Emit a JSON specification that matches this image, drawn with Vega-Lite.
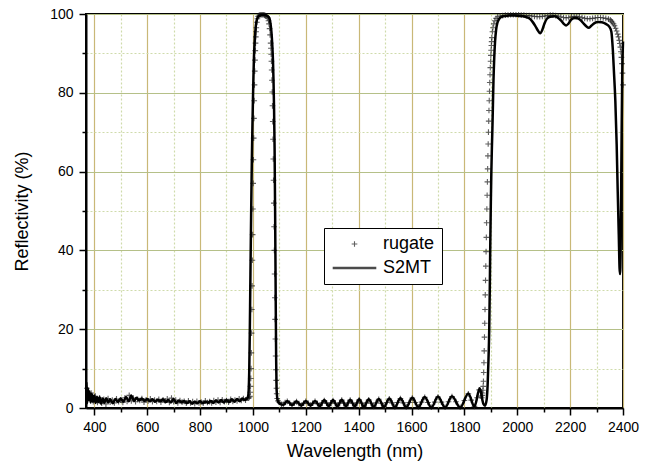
{
"$schema": "https://vega.github.io/schema/vega-lite/v6.json",
"width": 537, "height": 394,
"autosize": {"type": "none"},
"padding": {"left": 86, "top": 14, "right": 29, "bottom": 63},
"background": "white",
"config": {
 "view": {"stroke": "#000", "strokeWidth": 2},
 "font": "Liberation Sans",
 "legend": {"orient": "none", "legendX": 238, "legendY": 214, "padding": 7, "strokeColor": "#000", "fillColor": "#fff", "labelFontSize": 18, "labelFont": "Liberation Sans", "labelColor": "#000", "labelOffset": 5, "clipHeight": 18, "rowPadding": 6, "symbolSize": 1900, "cornerRadius": 0}
},
"datasets": {"d": [
{"w":370,"r":6.5,"s":"S2MT"},{"w":373,"r":1.2,"s":"S2MT"},{"w":376,"r":5.0,"s":"S2MT"},{"w":379,"r":2.0,"s":"S2MT"},{"w":382,"r":4.2,"s":"S2MT"},{"w":386,"r":1.4,"s":"S2MT"},{"w":390,"r":3.6,"s":"S2MT"},{"w":395,"r":1.6,"s":"S2MT"},{"w":400,"r":3.2,"s":"S2MT"},{"w":405,"r":1.3,"s":"S2MT"},{"w":410,"r":2.8,"s":"S2MT"},{"w":415,"r":1.5,"s":"S2MT"},{"w":420,"r":2.7,"s":"S2MT"},{"w":426,"r":1.1,"s":"S2MT"},{"w":432,"r":2.4,"s":"S2MT"},{"w":438,"r":1.3,"s":"S2MT"},{"w":445,"r":2.5,"s":"S2MT"},{"w":452,"r":1.4,"s":"S2MT"},{"w":460,"r":2.2,"s":"S2MT"},{"w":470,"r":1.2,"s":"S2MT"},{"w":480,"r":2.3,"s":"S2MT"},{"w":490,"r":1.5,"s":"S2MT"},{"w":500,"r":2.4,"s":"S2MT"},{"w":510,"r":1.6,"s":"S2MT"},{"w":520,"r":2.8,"s":"S2MT"},{"w":530,"r":1.7,"s":"S2MT"},{"w":540,"r":3.2,"s":"S2MT"},{"w":550,"r":1.8,"s":"S2MT"},{"w":560,"r":2.6,"s":"S2MT"},{"w":570,"r":1.9,"s":"S2MT"},{"w":580,"r":2.4,"s":"S2MT"},{"w":590,"r":1.8,"s":"S2MT"},{"w":600,"r":2.3,"s":"S2MT"},{"w":610,"r":1.7,"s":"S2MT"},{"w":620,"r":2.2,"s":"S2MT"},{"w":630,"r":1.6,"s":"S2MT"},{"w":640,"r":2.1,"s":"S2MT"},{"w":650,"r":1.7,"s":"S2MT"},{"w":660,"r":2.2,"s":"S2MT"},{"w":670,"r":1.5,"s":"S2MT"},{"w":680,"r":2.0,"s":"S2MT"},{"w":690,"r":1.4,"s":"S2MT"},{"w":700,"r":2.3,"s":"S2MT"},{"w":710,"r":1.3,"s":"S2MT"},{"w":720,"r":1.9,"s":"S2MT"},{"w":730,"r":1.4,"s":"S2MT"},{"w":740,"r":1.8,"s":"S2MT"},{"w":750,"r":1.2,"s":"S2MT"},{"w":760,"r":1.7,"s":"S2MT"},{"w":770,"r":1.1,"s":"S2MT"},{"w":780,"r":1.6,"s":"S2MT"},{"w":790,"r":1.2,"s":"S2MT"},{"w":800,"r":1.7,"s":"S2MT"},{"w":810,"r":1.2,"s":"S2MT"},{"w":820,"r":1.6,"s":"S2MT"},{"w":830,"r":1.3,"s":"S2MT"},{"w":840,"r":1.8,"s":"S2MT"},{"w":850,"r":1.3,"s":"S2MT"},{"w":860,"r":1.9,"s":"S2MT"},{"w":870,"r":1.4,"s":"S2MT"},{"w":880,"r":2.0,"s":"S2MT"},{"w":890,"r":1.4,"s":"S2MT"},{"w":900,"r":2.1,"s":"S2MT"},{"w":910,"r":1.5,"s":"S2MT"},{"w":920,"r":2.2,"s":"S2MT"},{"w":930,"r":1.6,"s":"S2MT"},{"w":940,"r":2.3,"s":"S2MT"},{"w":950,"r":1.7,"s":"S2MT"},{"w":960,"r":2.4,"s":"S2MT"},{"w":970,"r":2.0,"s":"S2MT"},{"w":976,"r":2.3,"s":"S2MT"},
{"w":980,"r":2.6,"s":"S2MT"},{"w":982,"r":3,"s":"S2MT"},{"w":984,"r":4.5,"s":"S2MT"},{"w":986,"r":9,"s":"S2MT"},{"w":988,"r":18,"s":"S2MT"},{"w":990,"r":30,"s":"S2MT"},{"w":992,"r":42,"s":"S2MT"},{"w":994,"r":53,"s":"S2MT"},{"w":996,"r":63,"s":"S2MT"},{"w":998,"r":71,"s":"S2MT"},{"w":1000,"r":78,"s":"S2MT"},{"w":1002,"r":84,"s":"S2MT"},{"w":1004,"r":89,"s":"S2MT"},{"w":1007,"r":93.5,"s":"S2MT"},{"w":1011,"r":97,"s":"S2MT"},{"w":1017,"r":99,"s":"S2MT"},{"w":1025,"r":99.6,"s":"S2MT"},{"w":1040,"r":99.8,"s":"S2MT"},{"w":1055,"r":99.5,"s":"S2MT"},{"w":1062,"r":99,"s":"S2MT"},{"w":1066,"r":97.8,"s":"S2MT"},{"w":1070,"r":95.5,"s":"S2MT"},{"w":1073,"r":92.5,"s":"S2MT"},{"w":1076,"r":88,"s":"S2MT"},{"w":1078,"r":83,"s":"S2MT"},{"w":1080,"r":76,"s":"S2MT"},{"w":1082,"r":66,"s":"S2MT"},{"w":1084,"r":50,"s":"S2MT"},{"w":1086,"r":30,"s":"S2MT"},{"w":1088,"r":12,"s":"S2MT"},{"w":1089.5,"r":5,"s":"S2MT"},{"w":1092,"r":2.5,"s":"S2MT"},{"w":1096,"r":1.5,"s":"S2MT"},
{"w":1100,"r":1.2,"s":"S2MT"},{"w":1115,"r":0.8,"s":"S2MT"},{"w":1130,"r":1.8,"s":"S2MT"},{"w":1148,"r":0.7,"s":"S2MT"},{"w":1165,"r":1.7,"s":"S2MT"},{"w":1183,"r":0.6,"s":"S2MT"},{"w":1200,"r":1.8,"s":"S2MT"},{"w":1218,"r":0.6,"s":"S2MT"},{"w":1235,"r":1.8,"s":"S2MT"},{"w":1253,"r":0.5,"s":"S2MT"},{"w":1270,"r":2.0,"s":"S2MT"},{"w":1287,"r":0.5,"s":"S2MT"},{"w":1303,"r":2.0,"s":"S2MT"},{"w":1320,"r":0.4,"s":"S2MT"},{"w":1336,"r":2.1,"s":"S2MT"},{"w":1352,"r":0.4,"s":"S2MT"},{"w":1368,"r":2.1,"s":"S2MT"},{"w":1385,"r":0.4,"s":"S2MT"},{"w":1402,"r":2.2,"s":"S2MT"},{"w":1420,"r":0.3,"s":"S2MT"},{"w":1438,"r":2.2,"s":"S2MT"},{"w":1457,"r":0.3,"s":"S2MT"},{"w":1476,"r":2.3,"s":"S2MT"},{"w":1496,"r":0.3,"s":"S2MT"},{"w":1516,"r":2.4,"s":"S2MT"},{"w":1537,"r":0.2,"s":"S2MT"},{"w":1558,"r":2.5,"s":"S2MT"},{"w":1580,"r":0.2,"s":"S2MT"},{"w":1603,"r":2.6,"s":"S2MT"},{"w":1626,"r":0.2,"s":"S2MT"},{"w":1650,"r":2.8,"s":"S2MT"},{"w":1675,"r":0.1,"s":"S2MT"},{"w":1700,"r":2.9,"s":"S2MT"},{"w":1727,"r":0.1,"s":"S2MT"},{"w":1753,"r":3.0,"s":"S2MT"},{"w":1784,"r":0.1,"s":"S2MT"},{"w":1815,"r":3.7,"s":"S2MT"},{"w":1838,"r":0.3,"s":"S2MT"},{"w":1858,"r":5.0,"s":"S2MT"},{"w":1872,"r":1.0,"s":"S2MT"},{"w":1878,"r":0.6,"s":"S2MT"},
{"w":1884,"r":2,"s":"S2MT"},{"w":1888,"r":6,"s":"S2MT"},{"w":1891,"r":12,"s":"S2MT"},{"w":1894,"r":20,"s":"S2MT"},{"w":1896,"r":30,"s":"S2MT"},{"w":1898,"r":42,"s":"S2MT"},{"w":1900,"r":52,"s":"S2MT"},{"w":1902,"r":60,"s":"S2MT"},{"w":1904,"r":66,"s":"S2MT"},{"w":1906,"r":71,"s":"S2MT"},{"w":1908,"r":77,"s":"S2MT"},{"w":1910,"r":83,"s":"S2MT"},{"w":1913,"r":89,"s":"S2MT"},{"w":1916,"r":93,"s":"S2MT"},{"w":1920,"r":96,"s":"S2MT"},{"w":1925,"r":97.8,"s":"S2MT"},{"w":1932,"r":98.8,"s":"S2MT"},{"w":1942,"r":99.3,"s":"S2MT"},{"w":1955,"r":99.5,"s":"S2MT"},{"w":1970,"r":99.6,"s":"S2MT"},{"w":1990,"r":99.6,"s":"S2MT"},{"w":2010,"r":99.5,"s":"S2MT"},{"w":2030,"r":99.3,"s":"S2MT"},{"w":2045,"r":98.9,"s":"S2MT"},{"w":2058,"r":98,"s":"S2MT"},{"w":2068,"r":97,"s":"S2MT"},{"w":2078,"r":95.8,"s":"S2MT"},{"w":2087,"r":95.1,"s":"S2MT"},{"w":2095,"r":96,"s":"S2MT"},{"w":2103,"r":97.6,"s":"S2MT"},{"w":2112,"r":98.8,"s":"S2MT"},{"w":2125,"r":99.3,"s":"S2MT"},{"w":2140,"r":99.4,"s":"S2MT"},{"w":2155,"r":99,"s":"S2MT"},{"w":2166,"r":98.3,"s":"S2MT"},{"w":2176,"r":97.5,"s":"S2MT"},{"w":2185,"r":97.1,"s":"S2MT"},{"w":2193,"r":97.5,"s":"S2MT"},{"w":2203,"r":98.5,"s":"S2MT"},{"w":2215,"r":99,"s":"S2MT"},{"w":2228,"r":98.9,"s":"S2MT"},{"w":2240,"r":98.4,"s":"S2MT"},{"w":2252,"r":97.5,"s":"S2MT"},{"w":2262,"r":96.8,"s":"S2MT"},{"w":2270,"r":96.5,"s":"S2MT"},{"w":2280,"r":97,"s":"S2MT"},{"w":2292,"r":97.7,"s":"S2MT"},{"w":2305,"r":98,"s":"S2MT"},{"w":2320,"r":97.9,"s":"S2MT"},{"w":2335,"r":97.5,"s":"S2MT"},{"w":2348,"r":96.8,"s":"S2MT"},{"w":2356,"r":95.5,"s":"S2MT"},{"w":2361,"r":91.5,"s":"S2MT"},{"w":2366,"r":85,"s":"S2MT"},{"w":2371,"r":78,"s":"S2MT"},{"w":2376,"r":67,"s":"S2MT"},{"w":2380,"r":55,"s":"S2MT"},{"w":2384,"r":44,"s":"S2MT"},{"w":2387,"r":35.5,"s":"S2MT"},{"w":2389,"r":34,"s":"S2MT"},{"w":2391,"r":40,"s":"S2MT"},{"w":2393,"r":55,"s":"S2MT"},{"w":2395,"r":71,"s":"S2MT"},{"w":2397,"r":84,"s":"S2MT"},{"w":2400,"r":93,"s":"S2MT"},
{"w":372,"r":5.0,"s":"rugate"},{"w":380,"r":2.5,"s":"rugate"},{"w":388,"r":3.8,"s":"rugate"},{"w":396,"r":1.6,"s":"rugate"},{"w":404,"r":3.0,"s":"rugate"},{"w":412,"r":1.4,"s":"rugate"},{"w":420,"r":2.6,"s":"rugate"},{"w":428,"r":1.2,"s":"rugate"},{"w":436,"r":2.2,"s":"rugate"},{"w":444,"r":1.0,"s":"rugate"},{"w":452,"r":2.4,"s":"rugate"},{"w":460,"r":1.5,"s":"rugate"},{"w":468,"r":2.0,"s":"rugate"},{"w":476,"r":1.3,"s":"rugate"},{"w":484,"r":2.3,"s":"rugate"},{"w":492,"r":1.6,"s":"rugate"},{"w":500,"r":2.1,"s":"rugate"},{"w":508,"r":1.4,"s":"rugate"},{"w":516,"r":2.6,"s":"rugate"},{"w":524,"r":1.7,"s":"rugate"},{"w":532,"r":3.2,"s":"rugate"},{"w":540,"r":1.8,"s":"rugate"},{"w":548,"r":2.5,"s":"rugate"},{"w":556,"r":1.6,"s":"rugate"},{"w":564,"r":2.2,"s":"rugate"},{"w":572,"r":1.9,"s":"rugate"},{"w":580,"r":2.4,"s":"rugate"},{"w":588,"r":1.5,"s":"rugate"},{"w":596,"r":2.1,"s":"rugate"},{"w":604,"r":1.8,"s":"rugate"},{"w":612,"r":2.3,"s":"rugate"},{"w":620,"r":1.6,"s":"rugate"},{"w":628,"r":2.0,"s":"rugate"},{"w":636,"r":1.7,"s":"rugate"},{"w":644,"r":2.2,"s":"rugate"},{"w":652,"r":1.5,"s":"rugate"},{"w":660,"r":2.1,"s":"rugate"},{"w":668,"r":1.8,"s":"rugate"},{"w":676,"r":2.3,"s":"rugate"},{"w":684,"r":1.4,"s":"rugate"},{"w":692,"r":2.5,"s":"rugate"},{"w":700,"r":1.6,"s":"rugate"},{"w":708,"r":2.0,"s":"rugate"},{"w":716,"r":1.3,"s":"rugate"},{"w":724,"r":1.9,"s":"rugate"},{"w":732,"r":1.5,"s":"rugate"},{"w":740,"r":1.7,"s":"rugate"},{"w":748,"r":1.2,"s":"rugate"},{"w":756,"r":1.8,"s":"rugate"},{"w":764,"r":1.3,"s":"rugate"},{"w":772,"r":1.6,"s":"rugate"},{"w":780,"r":1.1,"s":"rugate"},{"w":788,"r":1.7,"s":"rugate"},{"w":796,"r":1.3,"s":"rugate"},{"w":804,"r":1.5,"s":"rugate"},{"w":812,"r":1.2,"s":"rugate"},{"w":820,"r":1.8,"s":"rugate"},{"w":828,"r":1.4,"s":"rugate"},{"w":836,"r":1.6,"s":"rugate"},{"w":844,"r":1.3,"s":"rugate"},{"w":852,"r":1.9,"s":"rugate"},{"w":860,"r":1.5,"s":"rugate"},{"w":868,"r":2.0,"s":"rugate"},{"w":876,"r":1.4,"s":"rugate"},{"w":884,"r":2.1,"s":"rugate"},{"w":892,"r":1.6,"s":"rugate"},{"w":900,"r":1.9,"s":"rugate"},{"w":908,"r":1.5,"s":"rugate"},{"w":916,"r":2.2,"s":"rugate"},{"w":924,"r":1.7,"s":"rugate"},{"w":932,"r":2.0,"s":"rugate"},{"w":940,"r":1.8,"s":"rugate"},{"w":948,"r":2.3,"s":"rugate"},{"w":956,"r":1.9,"s":"rugate"},{"w":964,"r":2.4,"s":"rugate"},{"w":972,"r":2.0,"s":"rugate"},{"w":980,"r":2.6,"s":"rugate"},{"w":984,"r":2.5,"s":"rugate"},{"w":987,"r":2.8,"s":"rugate"},
{"w":989,"r":3,"s":"rugate"},{"w":990,"r":4,"s":"rugate"},{"w":991,"r":5.5,"s":"rugate"},{"w":992,"r":7.5,"s":"rugate"},{"w":993,"r":10,"s":"rugate"},{"w":994,"r":14,"s":"rugate"},{"w":995,"r":19,"s":"rugate"},{"w":996,"r":25,"s":"rugate"},{"w":997,"r":31,"s":"rugate"},{"w":998,"r":37.5,"s":"rugate"},{"w":999,"r":44,"s":"rugate"},{"w":1000,"r":50.5,"s":"rugate"},{"w":1001,"r":57,"s":"rugate"},{"w":1002,"r":63,"s":"rugate"},{"w":1003,"r":68.5,"s":"rugate"},{"w":1004,"r":73.5,"s":"rugate"},{"w":1005,"r":78,"s":"rugate"},{"w":1006,"r":82,"s":"rugate"},{"w":1007,"r":85.5,"s":"rugate"},{"w":1008,"r":88.3,"s":"rugate"},{"w":1009,"r":90.7,"s":"rugate"},{"w":1010,"r":92.6,"s":"rugate"},{"w":1011,"r":94.2,"s":"rugate"},{"w":1012,"r":95.5,"s":"rugate"},{"w":1013,"r":96.5,"s":"rugate"},{"w":1015,"r":97.9,"s":"rugate"},{"w":1017,"r":98.8,"s":"rugate"},{"w":1020,"r":99.4,"s":"rugate"},{"w":1024,"r":99.7,"s":"rugate"},{"w":1028,"r":99.8,"s":"rugate"},{"w":1032,"r":99.8,"s":"rugate"},{"w":1036,"r":99.8,"s":"rugate"},{"w":1040,"r":99.8,"s":"rugate"},{"w":1044,"r":99.7,"s":"rugate"},{"w":1047,"r":99.6,"s":"rugate"},{"w":1050,"r":99.5,"s":"rugate"},{"w":1053,"r":99.3,"s":"rugate"},{"w":1056,"r":99.0,"s":"rugate"},{"w":1059,"r":98.3,"s":"rugate"},{"w":1061,"r":97.5,"s":"rugate"},{"w":1063,"r":96.3,"s":"rugate"},{"w":1065,"r":94.7,"s":"rugate"},{"w":1067,"r":92.6,"s":"rugate"},{"w":1068,"r":91.3,"s":"rugate"},{"w":1069,"r":89.8,"s":"rugate"},{"w":1070,"r":88,"s":"rugate"},{"w":1071,"r":85.8,"s":"rugate"},{"w":1072,"r":83.2,"s":"rugate"},{"w":1073,"r":80.2,"s":"rugate"},{"w":1074,"r":76.7,"s":"rugate"},{"w":1075,"r":72.7,"s":"rugate"},{"w":1076,"r":68.2,"s":"rugate"},{"w":1077,"r":63.2,"s":"rugate"},{"w":1078,"r":57.8,"s":"rugate"},{"w":1079,"r":52,"s":"rugate"},{"w":1080,"r":46,"s":"rugate"},{"w":1081,"r":40,"s":"rugate"},{"w":1082,"r":34,"s":"rugate"},{"w":1083,"r":28,"s":"rugate"},{"w":1084,"r":22.5,"s":"rugate"},{"w":1085,"r":17.5,"s":"rugate"},{"w":1086,"r":13.2,"s":"rugate"},{"w":1087,"r":9.7,"s":"rugate"},{"w":1088,"r":7,"s":"rugate"},{"w":1089,"r":5,"s":"rugate"},{"w":1090,"r":3.6,"s":"rugate"},{"w":1092,"r":2.4,"s":"rugate"},{"w":1095,"r":1.8,"s":"rugate"},
{"w":1100,"r":1.4,"s":"rugate"},{"w":1108,"r":0.9,"s":"rugate"},{"w":1115,"r":0.9,"s":"rugate"},{"w":1122,"r":1.4,"s":"rugate"},{"w":1130,"r":1.7,"s":"rugate"},{"w":1139,"r":1.2,"s":"rugate"},{"w":1148,"r":0.8,"s":"rugate"},{"w":1156,"r":1.2,"s":"rugate"},{"w":1165,"r":1.6,"s":"rugate"},{"w":1174,"r":1.1,"s":"rugate"},{"w":1183,"r":0.7,"s":"rugate"},{"w":1192,"r":1.2,"s":"rugate"},{"w":1200,"r":1.7,"s":"rugate"},{"w":1209,"r":1.2,"s":"rugate"},{"w":1218,"r":0.7,"s":"rugate"},{"w":1226,"r":1.2,"s":"rugate"},{"w":1235,"r":1.7,"s":"rugate"},{"w":1244,"r":1.1,"s":"rugate"},{"w":1253,"r":0.6,"s":"rugate"},{"w":1262,"r":1.3,"s":"rugate"},{"w":1270,"r":1.9,"s":"rugate"},{"w":1279,"r":1.2,"s":"rugate"},{"w":1287,"r":0.6,"s":"rugate"},{"w":1295,"r":1.3,"s":"rugate"},{"w":1303,"r":1.9,"s":"rugate"},{"w":1312,"r":1.2,"s":"rugate"},{"w":1320,"r":0.5,"s":"rugate"},{"w":1328,"r":1.3,"s":"rugate"},{"w":1336,"r":2.0,"s":"rugate"},{"w":1344,"r":1.2,"s":"rugate"},{"w":1352,"r":0.5,"s":"rugate"},{"w":1360,"r":1.3,"s":"rugate"},{"w":1368,"r":2.0,"s":"rugate"},{"w":1377,"r":1.2,"s":"rugate"},{"w":1385,"r":0.5,"s":"rugate"},{"w":1394,"r":1.3,"s":"rugate"},{"w":1402,"r":2.1,"s":"rugate"},{"w":1411,"r":1.2,"s":"rugate"},{"w":1420,"r":0.4,"s":"rugate"},{"w":1429,"r":1.3,"s":"rugate"},{"w":1438,"r":2.1,"s":"rugate"},{"w":1447,"r":1.2,"s":"rugate"},{"w":1457,"r":0.4,"s":"rugate"},{"w":1466,"r":1.3,"s":"rugate"},{"w":1476,"r":2.2,"s":"rugate"},{"w":1486,"r":1.2,"s":"rugate"},{"w":1496,"r":0.4,"s":"rugate"},{"w":1506,"r":1.4,"s":"rugate"},{"w":1516,"r":2.3,"s":"rugate"},{"w":1526,"r":1.3,"s":"rugate"},{"w":1537,"r":0.3,"s":"rugate"},{"w":1547,"r":1.4,"s":"rugate"},{"w":1558,"r":2.4,"s":"rugate"},{"w":1569,"r":1.3,"s":"rugate"},{"w":1580,"r":0.3,"s":"rugate"},{"w":1591,"r":1.4,"s":"rugate"},{"w":1603,"r":2.5,"s":"rugate"},{"w":1614,"r":1.4,"s":"rugate"},{"w":1626,"r":0.3,"s":"rugate"},{"w":1638,"r":1.5,"s":"rugate"},{"w":1650,"r":2.7,"s":"rugate"},{"w":1662,"r":1.4,"s":"rugate"},{"w":1675,"r":0.2,"s":"rugate"},{"w":1688,"r":1.5,"s":"rugate"},{"w":1700,"r":2.8,"s":"rugate"},{"w":1713,"r":1.5,"s":"rugate"},{"w":1727,"r":0.2,"s":"rugate"},{"w":1740,"r":1.6,"s":"rugate"},{"w":1753,"r":2.9,"s":"rugate"},{"w":1768,"r":1.6,"s":"rugate"},{"w":1784,"r":0.2,"s":"rugate"},{"w":1800,"r":1.9,"s":"rugate"},{"w":1815,"r":3.6,"s":"rugate"},{"w":1826,"r":2.0,"s":"rugate"},{"w":1838,"r":0.4,"s":"rugate"},{"w":1848,"r":2.6,"s":"rugate"},{"w":1856,"r":4.6,"s":"rugate"},{"w":1862,"r":3.0,"s":"rugate"},{"w":1866,"r":2.6,"s":"rugate"},{"w":1868,"r":3.2,"s":"rugate"},{"w":1869,"r":3.8,"s":"rugate"},
{"w":1870,"r":4.5,"s":"rugate"},{"w":1871,"r":5.5,"s":"rugate"},{"w":1872,"r":6.8,"s":"rugate"},{"w":1873,"r":9,"s":"rugate"},{"w":1874,"r":11.5,"s":"rugate"},{"w":1875,"r":14.5,"s":"rugate"},{"w":1876,"r":18,"s":"rugate"},{"w":1877,"r":21.5,"s":"rugate"},{"w":1878,"r":25,"s":"rugate"},{"w":1879,"r":28.7,"s":"rugate"},{"w":1880,"r":32.4,"s":"rugate"},{"w":1881,"r":36,"s":"rugate"},{"w":1882,"r":39.7,"s":"rugate"},{"w":1883,"r":43.3,"s":"rugate"},{"w":1884,"r":47,"s":"rugate"},{"w":1885,"r":50.5,"s":"rugate"},{"w":1886,"r":54,"s":"rugate"},{"w":1887,"r":57.4,"s":"rugate"},{"w":1888,"r":60.7,"s":"rugate"},{"w":1889,"r":64,"s":"rugate"},{"w":1890,"r":67,"s":"rugate"},{"w":1891,"r":70,"s":"rugate"},{"w":1892,"r":72.8,"s":"rugate"},{"w":1893,"r":75.5,"s":"rugate"},{"w":1894,"r":78,"s":"rugate"},{"w":1895,"r":80.4,"s":"rugate"},{"w":1896,"r":82.6,"s":"rugate"},{"w":1897,"r":84.6,"s":"rugate"},{"w":1898,"r":86.4,"s":"rugate"},{"w":1899,"r":88,"s":"rugate"},{"w":1900,"r":89.5,"s":"rugate"},{"w":1901,"r":90.8,"s":"rugate"},{"w":1902,"r":92,"s":"rugate"},{"w":1903,"r":93,"s":"rugate"},{"w":1904,"r":94,"s":"rugate"},{"w":1906,"r":95.5,"s":"rugate"},{"w":1908,"r":96.5,"s":"rugate"},{"w":1911,"r":97.5,"s":"rugate"},{"w":1915,"r":98.3,"s":"rugate"},{"w":1920,"r":98.9,"s":"rugate"},{"w":1926,"r":99.3,"s":"rugate"},
{"w":1935,"r":99.5,"s":"rugate"},{"w":1945,"r":99.6,"s":"rugate"},{"w":1955,"r":99.7,"s":"rugate"},{"w":1965,"r":99.7,"s":"rugate"},{"w":1975,"r":99.8,"s":"rugate"},{"w":1985,"r":99.8,"s":"rugate"},{"w":1995,"r":99.8,"s":"rugate"},{"w":2005,"r":99.8,"s":"rugate"},{"w":2015,"r":99.7,"s":"rugate"},{"w":2025,"r":99.7,"s":"rugate"},{"w":2035,"r":99.6,"s":"rugate"},{"w":2045,"r":99.6,"s":"rugate"},{"w":2055,"r":99.5,"s":"rugate"},{"w":2065,"r":99.4,"s":"rugate"},{"w":2075,"r":99.3,"s":"rugate"},{"w":2085,"r":99.3,"s":"rugate"},{"w":2095,"r":99.4,"s":"rugate"},{"w":2105,"r":99.5,"s":"rugate"},{"w":2115,"r":99.6,"s":"rugate"},{"w":2125,"r":99.7,"s":"rugate"},{"w":2135,"r":99.7,"s":"rugate"},{"w":2145,"r":99.6,"s":"rugate"},{"w":2155,"r":99.5,"s":"rugate"},{"w":2165,"r":99.3,"s":"rugate"},{"w":2175,"r":99.1,"s":"rugate"},{"w":2185,"r":99.0,"s":"rugate"},{"w":2195,"r":99.1,"s":"rugate"},{"w":2205,"r":99.3,"s":"rugate"},{"w":2215,"r":99.4,"s":"rugate"},{"w":2225,"r":99.4,"s":"rugate"},{"w":2235,"r":99.3,"s":"rugate"},{"w":2245,"r":99.1,"s":"rugate"},{"w":2255,"r":98.9,"s":"rugate"},{"w":2265,"r":98.8,"s":"rugate"},{"w":2275,"r":98.8,"s":"rugate"},{"w":2285,"r":98.9,"s":"rugate"},{"w":2295,"r":99.0,"s":"rugate"},{"w":2305,"r":99.1,"s":"rugate"},{"w":2315,"r":99.1,"s":"rugate"},{"w":2325,"r":99.0,"s":"rugate"},{"w":2335,"r":98.9,"s":"rugate"},{"w":2345,"r":98.7,"s":"rugate"},{"w":2352,"r":98.5,"s":"rugate"},{"w":2356,"r":98.2,"s":"rugate"},{"w":2360,"r":97.9,"s":"rugate"},{"w":2364,"r":97.5,"s":"rugate"},{"w":2368,"r":97.0,"s":"rugate"},{"w":2372,"r":96.4,"s":"rugate"},{"w":2376,"r":95.7,"s":"rugate"},{"w":2380,"r":94.9,"s":"rugate"},{"w":2383,"r":94.2,"s":"rugate"},{"w":2386,"r":93.3,"s":"rugate"},{"w":2388,"r":92.5,"s":"rugate"},{"w":2390,"r":91.6,"s":"rugate"},{"w":2392,"r":90.4,"s":"rugate"},{"w":2394,"r":89,"s":"rugate"},{"w":2396,"r":87.4,"s":"rugate"},{"w":2398,"r":85,"s":"rugate"},{"w":2400,"r":82,"s":"rugate"}
]},
"data": {"name": "d"},
"encoding": {
 "x": {"field": "w", "type": "quantitative", "scale": {"domain": [368.6, 2400], "nice": false, "zero": false},
  "axis": {"values": [400,500,600,700,800,900,1000,1100,1200,1300,1400,1500,1600,1700,1800,1900,2000,2100,2200,2300,2400],
   "format": "d", "labelExpr": "datum.value % 200 === 0 ? datum.label : ''", "labelFlush": false, "labelOverlap": false,
   "title": "Wavelength (nm)", "titleFontSize": 18, "titleFontWeight": "normal", "titleColor": "#000", "titlePadding": 8,
   "labelFontSize": 14, "labelColor": "#000", "labelPadding": 5,
   "domainColor": "#000", "domainWidth": 2, "tickColor": "#000", "tickWidth": 1.5,
   "tickSize": {"condition": {"test": "datum.value % 200 === 0", "value": 7}, "value": 4},
   "grid": true,
   "gridColor": {"condition": {"test": "datum.value % 200 === 0", "value": "#c9b877"}, "value": "#cfdbab"},
   "gridDash": {"condition": {"test": "datum.value % 200 === 0", "value": []}, "value": [2, 2]},
   "gridWidth": 1.2}},
 "y": {"field": "r", "type": "quantitative", "scale": {"domain": [0, 100], "nice": false},
  "axis": {"values": [0,10,20,30,40,50,60,70,80,90,100],
   "labelExpr": "datum.value % 20 === 0 ? datum.label : ''", "labelFlush": false, "labelOverlap": false,
   "title": "Reflectivity (%)", "titleFontSize": 18, "titleFontWeight": "normal", "titleColor": "#000", "titlePadding": 18,
   "labelFontSize": 14, "labelColor": "#000", "labelPadding": 6,
   "domainColor": "#000", "domainWidth": 2, "tickColor": "#000", "tickWidth": 1.5,
   "tickSize": {"condition": {"test": "datum.value % 20 === 0", "value": 7}, "value": 4},
   "grid": true,
   "gridColor": {"condition": {"test": "datum.value % 20 === 0", "value": "#b5c088"}, "value": "#cfdbab"},
   "gridDash": {"condition": {"test": "datum.value % 20 === 0", "value": []}, "value": [2, 2]},
   "gridWidth": 1.2}}
},
"layer": [
 {"transform": [{"filter": "datum.s === 'rugate'"}],
  "mark": {"type": "point", "filled": false, "size": 1900, "strokeWidth": 1},
  "encoding": {
   "shape": {"field": "s", "type": "nominal", "title": null, "scale": {"domain": ["rugate", "S2MT"], "range": ["M-0.13,0H0.13M0,-0.13V0.13", "stroke"]}},
   "color": {"field": "s", "type": "nominal", "title": null, "scale": {"domain": ["rugate", "S2MT"], "range": ["#1e1e1e", "#000000"]}},
   "strokeWidth": {"field": "s", "type": "nominal", "title": null, "scale": {"domain": ["rugate", "S2MT"], "range": [1.1, 2.5]}}
  }},
 {"transform": [{"filter": "datum.s === 'S2MT'"}],
  "mark": {"type": "line", "color": "#000", "strokeWidth": 2.5, "interpolate": "monotone"},
  "encoding": {}}
]
}
